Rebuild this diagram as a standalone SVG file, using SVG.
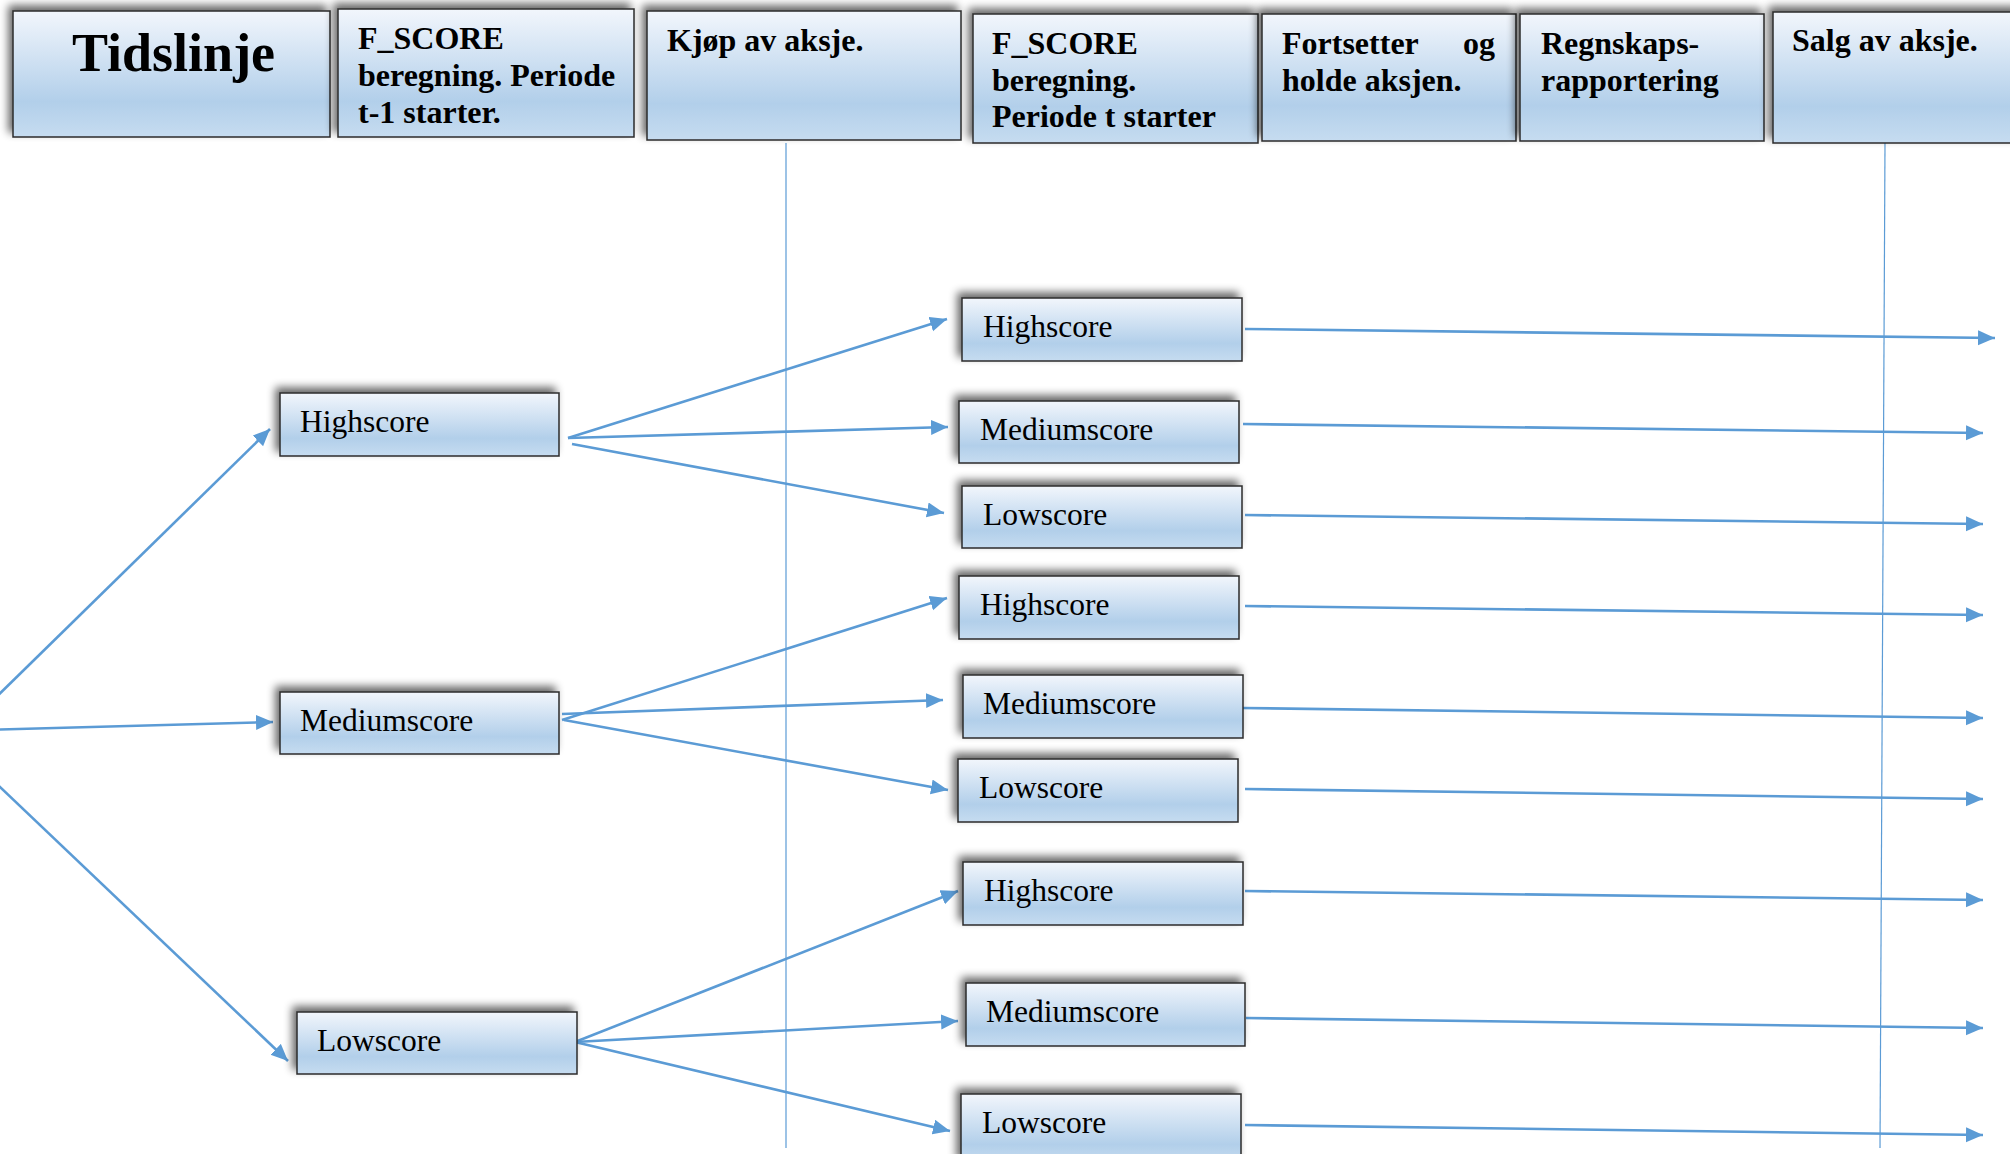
<svg xmlns="http://www.w3.org/2000/svg" width="2010" height="1154" viewBox="0 0 2010 1154">
  <defs>
    <linearGradient id="boxGrad" x1="0" y1="0" x2="0" y2="1">
      <stop offset="0" stop-color="#f2f6fc"/>
      <stop offset="0.72" stop-color="#b2cfea"/>
      <stop offset="1" stop-color="#c6dcf0"/>
    </linearGradient>
    <filter id="shadow" x="-10%" y="-40%" width="120%" height="160%">
      <feGaussianBlur in="SourceAlpha" stdDeviation="4"/>
      <feOffset dx="-4" dy="-5" result="b"/>
      <feComponentTransfer><feFuncA type="linear" slope="0.6"/></feComponentTransfer>
      <feMerge><feMergeNode/><feMergeNode in="SourceGraphic"/></feMerge>
    </filter>
    <marker id="arrow" markerUnits="userSpaceOnUse" markerWidth="19" markerHeight="16" refX="17" refY="7.5" orient="auto">
      <path d="M0,0 L17,7.5 L0,15 z" fill="#5b9bd5"/>
    </marker>
    <style>
      .box { fill: url(#boxGrad); stroke: #2b2b2b; stroke-width: 1.5; filter: url(#shadow); }
      .hdr { font-family: "Liberation Serif", "Times New Roman", serif; font-weight: bold; font-size: 32px; fill: #000; }
      .title { font-family: "Liberation Serif", "Times New Roman", serif; font-weight: bold; font-size: 54px; fill: #000; }
      .lbl { font-family: "Liberation Serif", "Times New Roman", serif; font-size: 31.5px; fill: #000; }
      .conn { stroke: #5b9bd5; stroke-width: 2.6; fill: none; marker-end: url(#arrow); }
      .vline { stroke: #5b9bd5; stroke-width: 1.2; fill: none; }
    </style>
  </defs>
  <rect width="2010" height="1154" fill="#ffffff"/>

  <g id="connectors">
    <line class="vline" x1="786" y1="143" x2="786" y2="1148"/>
    <line class="vline" x1="1885" y1="143" x2="1880" y2="1148"/>

    <line class="conn" x1="-20" y1="713" x2="270" y2="429"/>
    <line class="conn" x1="-20" y1="730" x2="273" y2="722"/>
    <line class="conn" x1="-20" y1="768" x2="288" y2="1061"/>

    <line class="conn" x1="568" y1="438" x2="947" y2="319"/>
    <line class="conn" x1="568" y1="438" x2="948" y2="427"/>
    <line class="conn" x1="572" y1="444" x2="944" y2="513"/>

    <line class="conn" x1="562" y1="720" x2="947" y2="598"/>
    <line class="conn" x1="562" y1="714" x2="943" y2="700"/>
    <line class="conn" x1="564" y1="720" x2="948" y2="790"/>

    <line class="conn" x1="575" y1="1042" x2="958" y2="891"/>
    <line class="conn" x1="575" y1="1042" x2="958" y2="1021"/>
    <line class="conn" x1="575" y1="1042" x2="950" y2="1131"/>

    <line class="conn" x1="1245" y1="329" x2="1995" y2="338"/>
    <line class="conn" x1="1243" y1="424" x2="1983" y2="433"/>
    <line class="conn" x1="1245" y1="515" x2="1983" y2="524"/>
    <line class="conn" x1="1245" y1="606" x2="1983" y2="615"/>
    <line class="conn" x1="1243" y1="708" x2="1983" y2="718"/>
    <line class="conn" x1="1245" y1="789" x2="1983" y2="799"/>
    <line class="conn" x1="1245" y1="891" x2="1983" y2="900"/>
    <line class="conn" x1="1246" y1="1018" x2="1983" y2="1028"/>
    <line class="conn" x1="1245" y1="1125" x2="1983" y2="1135"/>
  </g>

  <g id="hdr-tidslinje">
    <rect class="box" x="13" y="11" width="317" height="126"/>
    <text class="title" x="72" y="71">Tidslinje</text>
  </g>
  <g id="hdr-fscore-t1">
    <rect class="box" x="338" y="9" width="296" height="128"/>
    <text class="hdr" x="358" y="49">F_SCORE</text>
    <text class="hdr" x="358" y="86">beregning. Periode</text>
    <text class="hdr" x="358" y="123">t-1 starter.</text>
  </g>
  <g id="hdr-kjop">
    <rect class="box" x="647" y="11" width="314" height="129"/>
    <text class="hdr" x="667" y="51">Kjøp av aksje.</text>
  </g>
  <g id="hdr-fscore-t">
    <rect class="box" x="973" y="14" width="285" height="129"/>
    <text class="hdr" x="992" y="54">F_SCORE</text>
    <text class="hdr" x="992" y="91">beregning.</text>
    <text class="hdr" x="992" y="127">Periode t starter</text>
  </g>
  <g id="hdr-fortsetter">
    <rect class="box" x="1262" y="14" width="254" height="127"/>
    <text class="hdr" x="1282" y="54">Fortsetter</text>
    <text class="hdr" x="1495" y="54" text-anchor="end">og</text>
    <text class="hdr" x="1282" y="91">holde aksjen.</text>
  </g>
  <g id="hdr-regnskap">
    <rect class="box" x="1520" y="14" width="244" height="127"/>
    <text class="hdr" x="1541" y="54">Regnskaps-</text>
    <text class="hdr" x="1541" y="91">rapportering</text>
  </g>
  <g id="hdr-salg">
    <rect class="box" x="1773" y="12" width="260" height="131"/>
    <text class="hdr" x="1792" y="51">Salg av aksje.</text>
  </g>

  <g id="l1-high">
    <rect class="box" x="280" y="393" width="279" height="63"/>
    <text class="lbl" x="300" y="432">Highscore</text>
  </g>
  <g id="l1-medium">
    <rect class="box" x="280" y="692" width="279" height="62"/>
    <text class="lbl" x="300" y="731">Mediumscore</text>
  </g>
  <g id="l1-low">
    <rect class="box" x="297" y="1012" width="280" height="62"/>
    <text class="lbl" x="317" y="1051">Lowscore</text>
  </g>

  <g id="l2-high-1">
    <rect class="box" x="962" y="298" width="280" height="63"/>
    <text class="lbl" x="983" y="337">Highscore</text>
  </g>
  <g id="l2-medium-1">
    <rect class="box" x="959" y="401" width="280" height="62"/>
    <text class="lbl" x="980" y="440">Mediumscore</text>
  </g>
  <g id="l2-low-1">
    <rect class="box" x="962" y="486" width="280" height="62"/>
    <text class="lbl" x="983" y="525">Lowscore</text>
  </g>
  <g id="l2-high-2">
    <rect class="box" x="959" y="576" width="280" height="63"/>
    <text class="lbl" x="980" y="615">Highscore</text>
  </g>
  <g id="l2-medium-2">
    <rect class="box" x="963" y="675" width="280" height="63"/>
    <text class="lbl" x="983" y="714">Mediumscore</text>
  </g>
  <g id="l2-low-2">
    <rect class="box" x="958" y="759" width="280" height="63"/>
    <text class="lbl" x="979" y="798">Lowscore</text>
  </g>
  <g id="l2-high-3">
    <rect class="box" x="963" y="862" width="280" height="63"/>
    <text class="lbl" x="984" y="901">Highscore</text>
  </g>
  <g id="l2-medium-3">
    <rect class="box" x="966" y="983" width="279" height="63"/>
    <text class="lbl" x="986" y="1022">Mediumscore</text>
  </g>
  <g id="l2-low-3">
    <rect class="box" x="961" y="1094" width="280" height="70"/>
    <text class="lbl" x="982" y="1133">Lowscore</text>
  </g>
</svg>
